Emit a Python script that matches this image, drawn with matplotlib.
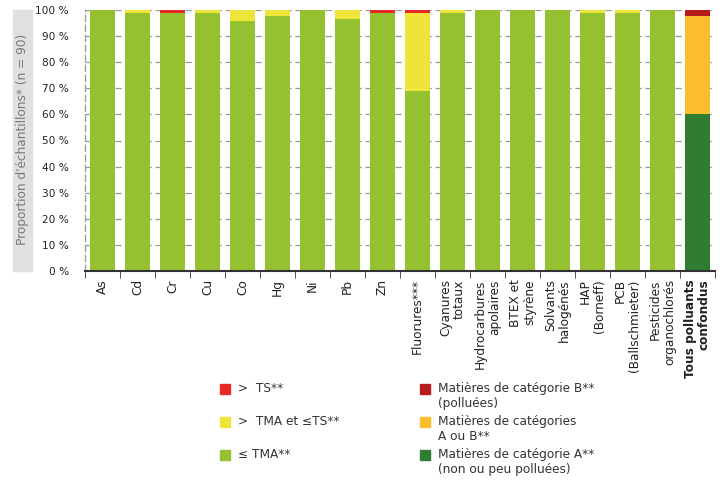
import matplotlib.pyplot as plt
from matplotlib.patches import Rectangle
import numpy as np

cats = ["As", "Cd", "Cr", "Cu", "Co", "Hg", "Ni", "Pb", "Zn", "Fluorures***",
        "Cyanures\ntotaux", "Hydrocarbures\napolaires", "BTEX et\nstyrène",
        "Solvants\nhalogénés", "HAP\n(Borneff)", "PCB\n(Ballschmieter)",
        "Pesticides\norganochlorés", "Tous polluants\nconfondus"]
# % of samples (n = 90), one value per substance (last bar handled separately)
le_tma = [100, 98.9, 98.9, 98.9, 95.6, 97.8, 100, 96.7, 98.9, 68.9,
          98.9, 100, 100, 100, 98.9, 98.9, 100]
tma_ts = [0, 1.1, 0, 1.1, 4.4, 2.2, 0, 3.3, 0, 30.0,
          1.1, 0, 0, 0, 1.1, 1.1, 0]
gt_ts = [0, 0, 1.1, 0, 0, 0, 0, 0, 1.1, 1.1,
         0, 0, 0, 0, 0, 0, 0]
# all pollutants together
cat_a = 60.0
cat_ab = 37.8
cat_b = 2.2

green, yellow, red = "#95c131", "#efe43a", "#e52a25"
dkgreen, orange, dkred = "#2e7d32", "#fbbd2c", "#b71c1c"
fs = 8.7

fig = plt.figure(figsize=(7.25, 5.0), dpi=100)
ax = fig.add_axes([85/725, 1-271/500, 630/725, 261/500])

x = np.arange(len(le_tma))
w = 0.7
a = np.array(le_tma); b = np.array(tma_ts); c = np.array(gt_ts)
ax.bar(x, a, w, color=green, zorder=2)
ax.bar(x, b, w, bottom=a, color=yellow, zorder=2)
ax.bar(x, c, w, bottom=a+b, color=red, zorder=2)
xl = len(le_tma)
ax.bar(xl, cat_a, w, color=dkgreen, zorder=2)
ax.bar(xl, cat_ab, w, bottom=cat_a, color=orange, zorder=2)
ax.bar(xl, cat_b, w, bottom=cat_a+cat_ab, color=dkred, zorder=2)

ax.set_xlim(-0.5, xl+0.5)
ax.set_ylim(0, 100)
ax.set_yticks(range(0, 101, 10))
ax.set_yticklabels([f"{v} %" for v in range(0, 101, 10)], fontsize=7.6, color="#222222")
ax.yaxis.grid(True, ls=(0, (5, 3)), color="#999999", lw=0.9, zorder=0)
ax.tick_params(axis="y", length=0, pad=11.5)

ax.set_xticks(np.arange(xl+1))
labs = ax.set_xticklabels(cats, rotation=90, fontsize=fs, color="#222222",
                          va="top", ha="center", multialignment="right",
                          linespacing=1.1)
labs[-1].set_fontweight("bold")
ax.tick_params(axis="x", which="major", length=0, pad=6)
ax.set_xticks(np.arange(-0.5, xl+1), minor=True)
ax.tick_params(axis="x", which="minor", length=5, color="#333333", direction="out")

for s in ["top", "right"]:
    ax.spines[s].set_visible(False)
ax.spines["left"].set_linestyle((0, (5, 3)))
ax.spines["left"].set_color("#999999")
ax.spines["left"].set_linewidth(0.9)
ax.spines["bottom"].set_color("#333333")
ax.spines["bottom"].set_linewidth(1.5)

# y label in grey box
fig.add_artist(Rectangle((13/725, 1-271/500), 19/725, 261/500,
                         transform=fig.transFigure, color="#e0e0e0", zorder=0))
fig.text(22.5/725, 1-139/500, "Proportion d'échantillons* (n = 90)", rotation=90,
         ha="center", va="center", fontsize=fs, color="#777777")

# legend
items = [(220, 389, red, ">  TS**"),
         (220, 422, yellow, ">  TMA et ≤TS**"),
         (220, 455, green, "≤ TMA**"),
         (420, 389, dkred, "Matières de catégorie B**\n(polluées)"),
         (420, 422, orange, "Matières de catégories\nA ou B**"),
         (420, 455, dkgreen, "Matières de catégorie A**\n(non ou peu polluées)")]
for px, py, col, txt in items:
    fig.add_artist(Rectangle((px/725, 1-(py+5)/500), 10/725, 10/500,
                             transform=fig.transFigure, color=col))
    fig.text((px+18)/725, 1-(py-7)/500, txt, ha="left", va="top",
             fontsize=fs, color="#333333", linespacing=1.2)

fig.savefig("out.png", dpi=100)
